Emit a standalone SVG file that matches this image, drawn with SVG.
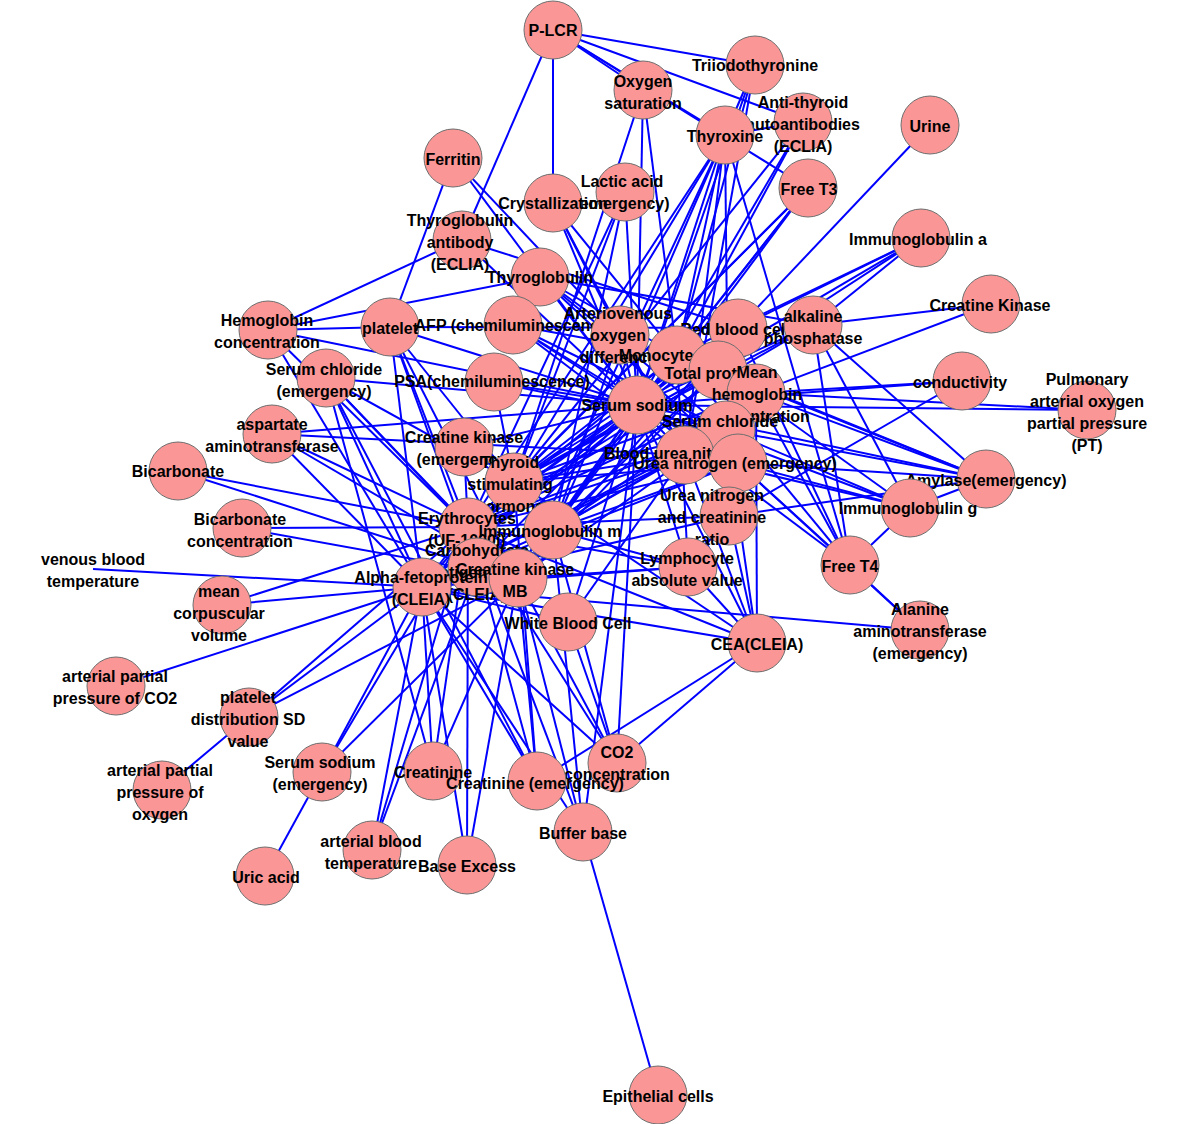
<svg xmlns="http://www.w3.org/2000/svg" width="1184" height="1124" viewBox="0 0 1184 1124">
<style>
.e line{stroke:#0000ff;stroke-width:2}
circle{fill:#fa9696;stroke:#6e6e6e;stroke-width:1}
text{font-family:"Liberation Sans",Arial,sans-serif;font-weight:bold;font-size:16px;fill:#000;text-anchor:middle}
</style>
<rect width="1184" height="1124" fill="#fff"/>
<g id="edges" class="e">
<line x1="553" y1="30" x2="755" y2="65"/><line x1="553" y1="30" x2="643" y2="90"/><line x1="553" y1="30" x2="803" y2="122"/><line x1="553" y1="30" x2="725" y2="135"/><line x1="553" y1="30" x2="462" y2="240"/><line x1="553" y1="30" x2="553" y2="203"/><line x1="553" y1="30" x2="808" y2="188"/>
<line x1="643" y1="90" x2="637" y2="405"/><line x1="643" y1="90" x2="677" y2="355"/><line x1="643" y1="90" x2="514" y2="482"/>
<line x1="755" y1="65" x2="725" y2="135"/><line x1="755" y1="65" x2="637" y2="405"/><line x1="755" y1="65" x2="677" y2="355"/><line x1="755" y1="65" x2="685" y2="455"/>
<line x1="803" y1="122" x2="637" y2="405"/><line x1="803" y1="122" x2="725" y2="135"/><line x1="803" y1="122" x2="677" y2="355"/><line x1="803" y1="122" x2="514" y2="482"/>
<line x1="930" y1="125" x2="738" y2="328"/>
<line x1="725" y1="135" x2="637" y2="405"/><line x1="725" y1="135" x2="677" y2="355"/><line x1="725" y1="135" x2="514" y2="482"/><line x1="725" y1="135" x2="553" y2="530"/><line x1="725" y1="135" x2="685" y2="455"/><line x1="725" y1="135" x2="729" y2="516"/><line x1="725" y1="135" x2="518" y2="578"/><line x1="725" y1="135" x2="850" y2="565"/><line x1="725" y1="135" x2="468" y2="527"/>
<line x1="453" y1="158" x2="637" y2="405"/><line x1="453" y1="158" x2="620" y2="335"/><line x1="453" y1="158" x2="390" y2="327"/>
<line x1="625" y1="192" x2="637" y2="405"/><line x1="625" y1="192" x2="514" y2="482"/><line x1="625" y1="192" x2="468" y2="527"/><line x1="625" y1="192" x2="553" y2="530"/>
<line x1="553" y1="203" x2="637" y2="405"/><line x1="553" y1="203" x2="677" y2="355"/><line x1="553" y1="203" x2="685" y2="455"/><line x1="553" y1="203" x2="620" y2="335"/>
<line x1="808" y1="188" x2="637" y2="405"/><line x1="808" y1="188" x2="514" y2="482"/><line x1="808" y1="188" x2="553" y2="530"/><line x1="808" y1="188" x2="677" y2="355"/><line x1="808" y1="188" x2="468" y2="527"/>
<line x1="462" y1="240" x2="268" y2="330"/><line x1="462" y1="240" x2="637" y2="405"/><line x1="462" y1="240" x2="738" y2="328"/>
<line x1="921" y1="238" x2="813" y2="325"/><line x1="921" y1="238" x2="738" y2="328"/><line x1="921" y1="238" x2="677" y2="355"/><line x1="921" y1="238" x2="637" y2="405"/><line x1="921" y1="238" x2="718" y2="370"/>
<line x1="540" y1="277" x2="637" y2="405"/><line x1="540" y1="277" x2="677" y2="355"/><line x1="540" y1="277" x2="620" y2="335"/><line x1="540" y1="277" x2="268" y2="330"/><line x1="540" y1="277" x2="738" y2="463"/><line x1="540" y1="277" x2="726" y2="430"/><line x1="540" y1="277" x2="813" y2="325"/>
<line x1="991" y1="304" x2="813" y2="325"/><line x1="991" y1="304" x2="756" y2="393"/>
<line x1="268" y1="330" x2="637" y2="405"/><line x1="268" y1="330" x2="422" y2="587"/><line x1="268" y1="330" x2="468" y2="527"/><line x1="268" y1="330" x2="390" y2="327"/>
<line x1="390" y1="327" x2="637" y2="405"/><line x1="390" y1="327" x2="468" y2="527"/><line x1="390" y1="327" x2="422" y2="587"/><line x1="390" y1="327" x2="477" y2="567"/><line x1="390" y1="327" x2="514" y2="482"/><line x1="390" y1="327" x2="518" y2="578"/><line x1="390" y1="327" x2="738" y2="328"/>
<line x1="513" y1="325" x2="637" y2="405"/><line x1="513" y1="325" x2="685" y2="455"/><line x1="513" y1="325" x2="738" y2="463"/><line x1="513" y1="325" x2="677" y2="355"/><line x1="513" y1="325" x2="726" y2="430"/>
<line x1="620" y1="335" x2="637" y2="405"/><line x1="620" y1="335" x2="685" y2="455"/><line x1="620" y1="335" x2="553" y2="530"/>
<line x1="738" y1="328" x2="637" y2="405"/><line x1="738" y1="328" x2="422" y2="587"/><line x1="738" y1="328" x2="468" y2="527"/><line x1="738" y1="328" x2="518" y2="578"/><line x1="738" y1="328" x2="514" y2="482"/>
<line x1="813" y1="325" x2="637" y2="405"/><line x1="813" y1="325" x2="986" y2="479"/><line x1="813" y1="325" x2="910" y2="508"/><line x1="813" y1="325" x2="850" y2="565"/><line x1="813" y1="325" x2="514" y2="482"/><line x1="813" y1="325" x2="468" y2="527"/>
<line x1="677" y1="355" x2="637" y2="405"/><line x1="677" y1="355" x2="553" y2="530"/><line x1="677" y1="355" x2="514" y2="482"/><line x1="677" y1="355" x2="468" y2="527"/><line x1="677" y1="355" x2="518" y2="578"/><line x1="677" y1="355" x2="688" y2="567"/><line x1="677" y1="355" x2="850" y2="565"/><line x1="677" y1="355" x2="986" y2="479"/>
<line x1="718" y1="370" x2="468" y2="527"/><line x1="718" y1="370" x2="514" y2="482"/><line x1="718" y1="370" x2="553" y2="530"/><line x1="718" y1="370" x2="518" y2="578"/><line x1="718" y1="370" x2="986" y2="479"/><line x1="718" y1="370" x2="910" y2="508"/>
<line x1="756" y1="393" x2="514" y2="482"/><line x1="756" y1="393" x2="553" y2="530"/><line x1="756" y1="393" x2="468" y2="527"/><line x1="756" y1="393" x2="986" y2="479"/><line x1="756" y1="393" x2="850" y2="565"/><line x1="756" y1="393" x2="757" y2="643"/><line x1="756" y1="393" x2="1087" y2="410"/>
<line x1="326" y1="378" x2="637" y2="405"/><line x1="326" y1="378" x2="468" y2="527"/><line x1="326" y1="378" x2="422" y2="587"/><line x1="326" y1="378" x2="518" y2="578"/><line x1="326" y1="378" x2="433" y2="771"/><line x1="326" y1="378" x2="537" y2="781"/><line x1="326" y1="378" x2="514" y2="482"/>
<line x1="494" y1="382" x2="637" y2="405"/><line x1="494" y1="382" x2="726" y2="430"/><line x1="494" y1="382" x2="514" y2="482"/>
<line x1="962" y1="381" x2="637" y2="405"/><line x1="962" y1="381" x2="756" y2="393"/><line x1="962" y1="381" x2="729" y2="516"/>
<line x1="1087" y1="410" x2="637" y2="405"/>
<line x1="637" y1="405" x2="514" y2="482"/><line x1="637" y1="405" x2="468" y2="527"/><line x1="637" y1="405" x2="553" y2="530"/><line x1="637" y1="405" x2="518" y2="578"/><line x1="637" y1="405" x2="477" y2="567"/><line x1="637" y1="405" x2="422" y2="587"/><line x1="637" y1="405" x2="568" y2="622"/><line x1="637" y1="405" x2="685" y2="455"/><line x1="637" y1="405" x2="738" y2="463"/><line x1="637" y1="405" x2="688" y2="567"/><line x1="637" y1="405" x2="757" y2="643"/><line x1="637" y1="405" x2="850" y2="565"/><line x1="637" y1="405" x2="910" y2="508"/><line x1="637" y1="405" x2="986" y2="479"/><line x1="637" y1="405" x2="583" y2="832"/><line x1="637" y1="405" x2="617" y2="763"/>
<line x1="726" y1="430" x2="514" y2="482"/><line x1="726" y1="430" x2="553" y2="530"/><line x1="726" y1="430" x2="468" y2="527"/><line x1="726" y1="430" x2="518" y2="578"/><line x1="726" y1="430" x2="422" y2="587"/><line x1="726" y1="430" x2="757" y2="643"/><line x1="726" y1="430" x2="910" y2="508"/>
<line x1="272" y1="434" x2="637" y2="405"/><line x1="272" y1="434" x2="468" y2="527"/><line x1="272" y1="434" x2="422" y2="587"/><line x1="272" y1="434" x2="518" y2="578"/><line x1="272" y1="434" x2="685" y2="455"/>
<line x1="464" y1="447" x2="637" y2="405"/><line x1="464" y1="447" x2="757" y2="643"/><line x1="464" y1="447" x2="468" y2="527"/>
<line x1="178" y1="471" x2="468" y2="527"/><line x1="178" y1="471" x2="477" y2="567"/>
<line x1="685" y1="455" x2="468" y2="527"/><line x1="685" y1="455" x2="553" y2="530"/><line x1="685" y1="455" x2="514" y2="482"/><line x1="685" y1="455" x2="422" y2="587"/><line x1="685" y1="455" x2="568" y2="622"/>
<line x1="738" y1="463" x2="514" y2="482"/><line x1="738" y1="463" x2="553" y2="530"/><line x1="738" y1="463" x2="468" y2="527"/><line x1="738" y1="463" x2="422" y2="587"/><line x1="738" y1="463" x2="986" y2="479"/><line x1="738" y1="463" x2="910" y2="508"/><line x1="738" y1="463" x2="850" y2="565"/><line x1="738" y1="463" x2="920" y2="630"/>
<line x1="514" y1="482" x2="553" y2="530"/>
<line x1="986" y1="479" x2="726" y2="430"/><line x1="986" y1="479" x2="910" y2="508"/><line x1="986" y1="479" x2="729" y2="516"/>
<line x1="910" y1="508" x2="850" y2="565"/><line x1="910" y1="508" x2="685" y2="455"/>
<line x1="242" y1="528" x2="468" y2="527"/><line x1="242" y1="528" x2="518" y2="578"/>
<line x1="468" y1="527" x2="422" y2="587"/><line x1="468" y1="527" x2="688" y2="567"/><line x1="468" y1="527" x2="757" y2="643"/>
<line x1="553" y1="530" x2="422" y2="587"/><line x1="553" y1="530" x2="688" y2="567"/>
<line x1="729" y1="516" x2="688" y2="567"/><line x1="729" y1="516" x2="757" y2="643"/><line x1="729" y1="516" x2="422" y2="587"/><line x1="729" y1="516" x2="468" y2="527"/>
<line x1="850" y1="565" x2="920" y2="630"/><line x1="850" y1="565" x2="738" y2="328"/>
<line x1="93" y1="569" x2="422" y2="587"/>
<line x1="477" y1="567" x2="422" y2="587"/>
<line x1="518" y1="578" x2="688" y2="567"/><line x1="518" y1="578" x2="617" y2="763"/>
<line x1="422" y1="587" x2="222" y2="605"/><line x1="422" y1="587" x2="116" y2="686"/><line x1="422" y1="587" x2="249" y2="717"/><line x1="422" y1="587" x2="322" y2="772"/><line x1="422" y1="587" x2="433" y2="771"/><line x1="422" y1="587" x2="372" y2="850"/><line x1="422" y1="587" x2="467" y2="865"/><line x1="422" y1="587" x2="537" y2="781"/><line x1="422" y1="587" x2="583" y2="832"/><line x1="422" y1="587" x2="617" y2="763"/><line x1="422" y1="587" x2="920" y2="630"/><line x1="422" y1="587" x2="514" y2="482"/><line x1="422" y1="587" x2="688" y2="567"/><line x1="422" y1="587" x2="757" y2="643"/>
<line x1="222" y1="605" x2="468" y2="527"/>
<line x1="688" y1="567" x2="757" y2="643"/>
<line x1="568" y1="622" x2="617" y2="763"/><line x1="568" y1="622" x2="422" y2="587"/>
<line x1="757" y1="643" x2="617" y2="763"/><line x1="757" y1="643" x2="537" y2="781"/><line x1="757" y1="643" x2="685" y2="455"/>
<line x1="249" y1="717" x2="162" y2="790"/><line x1="249" y1="717" x2="468" y2="527"/><line x1="249" y1="717" x2="518" y2="578"/>
<line x1="322" y1="772" x2="265" y2="876"/><line x1="322" y1="772" x2="468" y2="527"/><line x1="322" y1="772" x2="518" y2="578"/>
<line x1="433" y1="771" x2="468" y2="527"/><line x1="433" y1="771" x2="518" y2="578"/>
<line x1="617" y1="763" x2="468" y2="527"/><line x1="617" y1="763" x2="553" y2="530"/>
<line x1="537" y1="781" x2="468" y2="527"/><line x1="537" y1="781" x2="514" y2="482"/><line x1="537" y1="781" x2="518" y2="578"/>
<line x1="583" y1="832" x2="468" y2="527"/><line x1="583" y1="832" x2="518" y2="578"/><line x1="583" y1="832" x2="553" y2="530"/><line x1="583" y1="832" x2="658" y2="1095"/>
<line x1="372" y1="850" x2="468" y2="527"/><line x1="372" y1="850" x2="477" y2="567"/>
<line x1="467" y1="865" x2="518" y2="578"/><line x1="467" y1="865" x2="468" y2="527"/>
</g>
<g id="n-plcr"><circle cx="553" cy="30" r="29"/><text x="553" y="36">P-LCR</text></g>
<g id="n-t3i"><circle cx="755" cy="65" r="29"/><text x="755" y="71">Triiodothyronine</text></g>
<g id="n-os"><circle cx="643" cy="90" r="29"/><text x="643" y="87">Oxygen</text><text x="643" y="109">saturation</text></g>
<g id="n-at"><circle cx="803" cy="122" r="29"/><text x="803" y="108">Anti-thyroid</text><text x="803" y="130">autoantibodies</text><text x="803" y="152">(ECLIA)</text></g>
<g id="n-ur"><circle cx="930" cy="125" r="29"/><text x="930" y="132">Urine</text></g>
<g id="n-tx"><circle cx="725" cy="135" r="29"/><text x="725" y="142">Thyroxine</text></g>
<g id="n-fe"><circle cx="453" cy="158" r="29"/><text x="453" y="165">Ferritin</text></g>
<g id="n-la"><circle cx="625" cy="192" r="29"/><text x="622" y="187">Lactic acid</text><text x="622" y="209">(emergency)</text></g>
<g id="n-cr"><circle cx="553" cy="203" r="29"/><text x="553" y="209">Crystallization</text></g>
<g id="n-ft3"><circle cx="808" cy="188" r="29"/><text x="809" y="195">Free T3</text></g>
<g id="n-tga"><circle cx="462" cy="240" r="29"/><text x="460" y="226">Thyroglobulin</text><text x="460" y="248">antibody</text><text x="460" y="270">(ECLIA)</text></g>
<g id="n-iga"><circle cx="921" cy="238" r="29"/><text x="918" y="245">Immunoglobulin a</text></g>
<g id="n-tg"><circle cx="540" cy="277" r="29"/><text x="540" y="283">Thyroglobulin</text></g>
<g id="n-ckk"><circle cx="991" cy="304" r="29"/><text x="990" y="311">Creatine Kinase</text></g>
<g id="n-hb"><circle cx="268" cy="330" r="29"/><text x="267" y="326">Hemoglobin</text><text x="267" y="348">concentration</text></g>
<g id="n-plt"><circle cx="390" cy="327" r="29"/><text x="390" y="334">platelet</text></g>
<g id="n-afp"><circle cx="513" cy="325" r="29"/><text x="514" y="331">AFP (chemiluminescence)</text></g>
<g id="n-av"><circle cx="620" cy="335" r="29"/><text x="618" y="319">Arteriovenous</text><text x="618" y="341">oxygen</text><text x="618" y="363">difference</text></g>
<g id="n-rbc"><circle cx="738" cy="328" r="29"/><text x="735" y="335">Red blood cell</text></g>
<g id="n-alp"><circle cx="813" cy="325" r="29"/><text x="813" y="322">alkaline</text><text x="813" y="344">phosphatase</text></g>
<g id="n-mo"><circle cx="677" cy="355" r="29"/><text x="680" y="361">Monocyte count</text></g>
<g id="n-tp"><circle cx="718" cy="370" r="29"/><text x="712" y="379">Total protein</text></g>
<g id="n-mhc"><circle cx="756" cy="393" r="29"/><text x="757" y="378">Mean</text><text x="757" y="400">hemoglobin</text><text x="757" y="422">concentration</text></g>
<g id="n-sce"><circle cx="326" cy="378" r="29"/><text x="324" y="375">Serum chloride</text><text x="324" y="397">(emergency)</text></g>
<g id="n-psa"><circle cx="494" cy="382" r="29"/><text x="492" y="387">PSA(chemiluminescence)</text></g>
<g id="n-co"><circle cx="962" cy="381" r="29"/><text x="960" y="388">conductivity</text></g>
<g id="n-pu"><circle cx="1087" cy="410" r="29"/><text x="1087" y="385">Pulmonary</text><text x="1087" y="407">arterial oxygen</text><text x="1087" y="429">partial pressure</text><text x="1087" y="451">(PT)</text></g>
<g id="n-ss"><circle cx="637" cy="405" r="29"/><text x="637" y="411">Serum sodium</text></g>
<g id="n-sc"><circle cx="726" cy="430" r="29"/><text x="720" y="427">Serum chloride</text></g>
<g id="n-ast"><circle cx="272" cy="434" r="29"/><text x="272" y="430">aspartate</text><text x="272" y="452">aminotransferase</text></g>
<g id="n-cke"><circle cx="464" cy="447" r="29"/><text x="464" y="443">Creatine kinase</text><text x="464" y="465">(emergency)</text></g>
<g id="n-bi"><circle cx="178" cy="471" r="29"/><text x="178" y="477">Bicarbonate</text></g>
<g id="n-bun"><circle cx="685" cy="455" r="29"/><text x="680" y="459">Blood urea nitrogen</text></g>
<g id="n-une"><circle cx="738" cy="463" r="29"/><text x="735" y="469">Urea nitrogen (emergency)</text></g>
<g id="n-tsh"><circle cx="514" cy="482" r="29"/><text x="510" y="468">Thyroid</text><text x="510" y="490">stimulating</text><text x="510" y="512">hormone</text></g>
<g id="n-am"><circle cx="986" cy="479" r="29"/><text x="986" y="486">Amylase(emergency)</text></g>
<g id="n-igg"><circle cx="910" cy="508" r="29"/><text x="908" y="514">Immunoglobulin g</text></g>
<g id="n-bic"><circle cx="242" cy="528" r="29"/><text x="240" y="525">Bicarbonate</text><text x="240" y="547">concentration</text></g>
<g id="n-er"><circle cx="468" cy="527" r="29"/><text x="467" y="524">Erythrocytes</text><text x="467" y="546">(UF-1000i)</text></g>
<g id="n-igm"><circle cx="553" cy="530" r="29"/><text x="550" y="537">Immunoglobulin m</text></g>
<g id="n-unc"><circle cx="729" cy="516" r="29"/><text x="712" y="501">Urea nitrogen</text><text x="712" y="523">and creatinine</text><text x="712" y="545">ratio</text></g>
<g id="n-ft4"><circle cx="850" cy="565" r="29"/><text x="850" y="572">Free T4</text></g>
<g id="n-vbt"><circle cx="93" cy="569" r="0" style="display:none"/><text x="93" y="565">venous blood</text><text x="93" y="587">temperature</text></g>
<g id="n-ca"><circle cx="477" cy="567" r="29"/><text x="477" y="556">Carbohydrate</text><text x="477" y="578">antigen 19-9</text><text x="477" y="600">(CLEIA)</text></g>
<g id="n-ckmb"><circle cx="518" cy="578" r="29"/><text x="515" y="575">Creatine kinase</text><text x="515" y="597">MB</text></g>
<g id="n-afpc"><circle cx="422" cy="587" r="29"/><text x="421" y="583">Alpha-fetoprotein</text><text x="421" y="605">(CLEIA)</text></g>
<g id="n-mcv"><circle cx="222" cy="605" r="29"/><text x="219" y="597">mean</text><text x="219" y="619">corpuscular</text><text x="219" y="641">volume</text></g>
<g id="n-ly"><circle cx="688" cy="567" r="29"/><text x="687" y="564">Lymphocyte</text><text x="687" y="586">absolute value</text></g>
<g id="n-wbc"><circle cx="568" cy="622" r="29"/><text x="568" y="629">White Blood Cell</text></g>
<g id="n-cea"><circle cx="757" cy="643" r="29"/><text x="757" y="650">CEA(CLEIA)</text></g>
<g id="n-alt"><circle cx="920" cy="630" r="29"/><text x="920" y="615">Alanine</text><text x="920" y="637">aminotransferase</text><text x="920" y="659">(emergency)</text></g>
<g id="n-pco2"><circle cx="116" cy="686" r="29"/><text x="115" y="682">arterial partial</text><text x="115" y="704">pressure of CO2</text></g>
<g id="n-pdw"><circle cx="249" cy="717" r="29"/><text x="248" y="703">platelet</text><text x="248" y="725">distribution SD</text><text x="248" y="747">value</text></g>
<g id="n-sse"><circle cx="322" cy="772" r="29"/><text x="320" y="768">Serum sodium</text><text x="320" y="790">(emergency)</text></g>
<g id="n-cre"><circle cx="433" cy="771" r="29"/><text x="433" y="778">Creatinine</text></g>
<g id="n-co2"><circle cx="617" cy="763" r="29"/><text x="617" y="758">CO2</text><text x="617" y="780">concentration</text></g>
<g id="n-cree"><circle cx="537" cy="781" r="29"/><text x="535" y="789">Creatinine (emergency)</text></g>
<g id="n-po2"><circle cx="162" cy="790" r="29"/><text x="160" y="776">arterial partial</text><text x="160" y="798">pressure of</text><text x="160" y="820">oxygen</text></g>
<g id="n-bb"><circle cx="583" cy="832" r="29"/><text x="583" y="839">Buffer base</text></g>
<g id="n-abt"><circle cx="372" cy="850" r="29"/><text x="371" y="847">arterial blood</text><text x="371" y="869">temperature</text></g>
<g id="n-be"><circle cx="467" cy="865" r="29"/><text x="467" y="872">Base Excess</text></g>
<g id="n-ua"><circle cx="265" cy="876" r="29"/><text x="266" y="883">Uric acid</text></g>
<g id="n-ep"><circle cx="658" cy="1095" r="29"/><text x="658" y="1102">Epithelial cells</text></g>
</svg>
